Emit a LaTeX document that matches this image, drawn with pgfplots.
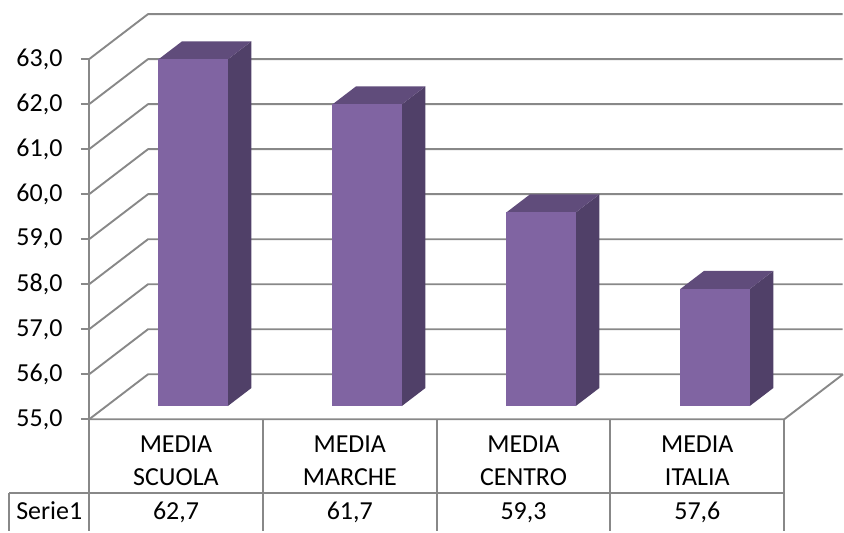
\documentclass[border=0pt]{standalone}
\usepackage{pgfplots}
\pgfplotsset{compat=1.18}
\usepackage{fontspec}
\setmainfont{Carlito}
\newcommand\fs{\fontsize{26}{33}\selectfont}
\definecolor{barfront}{RGB}{128,100,162}
\definecolor{barside}{RGB}{80,64,104}
\definecolor{bartop}{RGB}{96,76,123}
\definecolor{gridc}{RGB}{136,136,136}
\begin{document}
\begin{tikzpicture}
\begin{axis}[
  width=844pt, height=532pt, scale only axis,
  xmin=0, xmax=844, ymin=52.517, ymax=64.313,
  axis line style={draw=none},
  xtick=\empty,
  ytick={55,56,...,63},
  major tick length=0pt,
  tick style={draw=none},
  yticklabel style={anchor=east, inner sep=0pt, xshift=62.7pt, font=\fs,
    /pgf/number format/.cd, fixed, fixed zerofill, precision=1, use comma, assume math mode=true},
  clip=false,
  every axis plot/.append style={line join=round},
]
% back wall / floor gridlines (front-left -> back -> right)
\addplot[gridc, line width=1.9pt] coordinates {(89.3,55) (148.3,56) (844,56)};
\addplot[gridc, line width=1.9pt] coordinates {(89.3,56) (148.3,57) (844,57)};
\addplot[gridc, line width=1.9pt] coordinates {(89.3,57) (148.3,58) (844,58)};
\addplot[gridc, line width=1.9pt] coordinates {(89.3,58) (148.3,59) (844,59)};
\addplot[gridc, line width=1.9pt] coordinates {(89.3,59) (148.3,60) (844,60)};
\addplot[gridc, line width=1.9pt] coordinates {(89.3,60) (148.3,61) (844,61)};
\addplot[gridc, line width=1.9pt] coordinates {(89.3,61) (148.3,62) (844,62)};
\addplot[gridc, line width=1.9pt] coordinates {(89.3,62) (148.3,63) (844,63)};
\addplot[gridc, line width=1.9pt] coordinates {(89.3,63) (148.3,64) (844,64)};
% floor front and right edges
\addplot[gridc, line width=1.9pt] coordinates {(89.3,55) (785.5,55) (844.5,56)};
% front vertical axis and ticks
\addplot[gridc, line width=1.9pt] coordinates {(89.3,55) (89.3,63)};
\addplot[gridc, line width=1.9pt] coordinates {(81,55) (89.3,55)};
\addplot[gridc, line width=1.9pt] coordinates {(81,56) (89.3,56)};
\addplot[gridc, line width=1.9pt] coordinates {(81,57) (89.3,57)};
\addplot[gridc, line width=1.9pt] coordinates {(81,58) (89.3,58)};
\addplot[gridc, line width=1.9pt] coordinates {(81,59) (89.3,59)};
\addplot[gridc, line width=1.9pt] coordinates {(81,60) (89.3,60)};
\addplot[gridc, line width=1.9pt] coordinates {(81,61) (89.3,61)};
\addplot[gridc, line width=1.9pt] coordinates {(81,62) (89.3,62)};
\addplot[gridc, line width=1.9pt] coordinates {(81,63) (89.3,63)};
% ---- bars (value 62.7, 61.7, 59.3, 57.6) ----
% bar 1: 62.7
\addplot[fill=barside, draw=none] coordinates {(228.25,55.295) (251.85,55.695) (251.85,63.395) (228.25,62.995)} --cycle;
\addplot[fill=bartop, draw=none] coordinates {(158.75,62.995) (228.25,62.995) (251.85,63.395) (182.35,63.395)} --cycle;
\addplot[fill=barfront, draw=none] coordinates {(158.75,55.295) (228.25,55.295) (228.25,62.995) (158.75,62.995)} --cycle;
% bar 2: 61.7
\addplot[fill=barside, draw=none] coordinates {(402.55,55.295) (426.15,55.695) (426.15,62.395) (402.55,61.995)} --cycle;
\addplot[fill=bartop, draw=none] coordinates {(333.05,61.995) (402.55,61.995) (426.15,62.395) (356.65,62.395)} --cycle;
\addplot[fill=barfront, draw=none] coordinates {(333.05,55.295) (402.55,55.295) (402.55,61.995) (333.05,61.995)} --cycle;
% bar 3: 59.3
\addplot[fill=barside, draw=none] coordinates {(576.75,55.295) (600.35,55.695) (600.35,59.995) (576.75,59.595)} --cycle;
\addplot[fill=bartop, draw=none] coordinates {(507.25,59.595) (576.75,59.595) (600.35,59.995) (530.85,59.995)} --cycle;
\addplot[fill=barfront, draw=none] coordinates {(507.25,55.295) (576.75,55.295) (576.75,59.595) (507.25,59.595)} --cycle;
% bar 4: 57.6
\addplot[fill=barside, draw=none] coordinates {(751.05,55.295) (774.65,55.695) (774.65,58.295) (751.05,57.895)} --cycle;
\addplot[fill=bartop, draw=none] coordinates {(681.55,57.895) (751.05,57.895) (774.65,58.295) (705.15,58.295)} --cycle;
\addplot[fill=barfront, draw=none] coordinates {(681.55,55.295) (751.05,55.295) (751.05,57.895) (681.55,57.895)} --cycle;
% ---- data table ----
\addplot[gridc, line width=1.9pt] coordinates {(89.3,55) (89.3,52.517)};
\addplot[gridc, line width=1.9pt] coordinates {(263.35,55) (263.35,52.517)};
\addplot[gridc, line width=1.9pt] coordinates {(437.4,55) (437.4,52.517)};
\addplot[gridc, line width=1.9pt] coordinates {(611.45,55) (611.45,52.517)};
\addplot[gridc, line width=1.9pt] coordinates {(785.5,55) (785.5,52.517)};
\addplot[gridc, line width=1.9pt] coordinates {(9.3,53.37) (785.5,53.37)};
\addplot[gridc, line width=1.9pt] coordinates {(9.3,53.37) (9.3,52.517)};
\node[font=\fs, anchor=base] at (axis cs:176.3,54.262) {MEDIA};
\node[font=\fs, anchor=base] at (axis cs:176.3,53.521) {SCUOLA};
\node[font=\fs, anchor=base] at (axis cs:350.4,54.262) {MEDIA};
\node[font=\fs, anchor=base] at (axis cs:350.4,53.521) {MARCHE};
\node[font=\fs, anchor=base] at (axis cs:524.4,54.262) {MEDIA};
\node[font=\fs, anchor=base] at (axis cs:524.4,53.521) {CENTRO};
\node[font=\fs, anchor=base] at (axis cs:698.5,54.262) {MEDIA};
\node[font=\fs, anchor=base] at (axis cs:698.5,53.521) {ITALIA};
\node[font=\fs, anchor=base] at (axis cs:49.3,52.767) {Serie1};
\node[font=\fs, anchor=base] at (axis cs:176.3,52.767) {62,7};
\node[font=\fs, anchor=base] at (axis cs:350.4,52.767) {61,7};
\node[font=\fs, anchor=base] at (axis cs:524.4,52.767) {59,3};
\node[font=\fs, anchor=base] at (axis cs:698.5,52.767) {57,6};
\end{axis}
\end{tikzpicture}
\end{document}
